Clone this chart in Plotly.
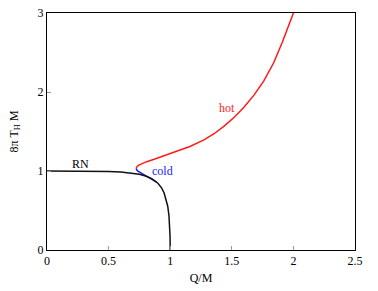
import plotly.graph_objects as go

# RN branch
rn_x = [0.0, 0.1, 0.2, 0.3, 0.4, 0.5, 0.6, 0.7, 0.75, 0.8, 0.85, 0.9, 0.93, 0.95, 0.97, 0.98, 0.99, 0.995, 0.999, 1.0]
rn_y = [1.0, 1.0, 0.9999, 0.9994, 0.9978, 0.9948, 0.9877, 0.9724, 0.960, 0.9375, 0.904, 0.8457, 0.786, 0.7253, 0.629, 0.5537, 0.4334, 0.3304, 0.164, 0.0]

# cold branch
cold_x = [0.724, 0.728, 0.738, 0.755, 0.775, 0.80, 0.83, 0.86, 0.89]
cold_y = [1.035, 1.015, 0.998, 0.982, 0.966, 0.948, 0.922, 0.893, 0.858]

# hot branch
hot_x = [0.724, 0.732, 0.745, 0.77, 0.81, 0.87, 0.95, 1.05, 1.16, 1.27, 1.36, 1.44, 1.52, 1.6, 1.68, 1.76, 1.84, 1.91, 1.96, 2.0]
hot_y = [1.035, 1.058, 1.075, 1.095, 1.118, 1.148, 1.19, 1.25, 1.31, 1.39, 1.475, 1.572, 1.68, 1.81, 1.96, 2.14, 2.37, 2.63, 2.83, 3.0]

x_ticks = [0, 0.5, 1, 1.5, 2, 2.5]
x_labels = ["0", "0.5", "1", "1.5", "2", "2.5"]
y_ticks = [0, 1, 2, 3]
y_labels = ["0", "1", "2", "3"]

font = "Liberation Serif, Times New Roman, serif"

fig = go.Figure()
fig.add_trace(go.Scatter(x=cold_x, y=cold_y, mode="lines", line=dict(color="#1a1aff", width=1.5), showlegend=False))
fig.add_trace(go.Scatter(x=rn_x, y=rn_y, mode="lines", line=dict(color="#111111", width=1.5), showlegend=False))
fig.add_trace(go.Scatter(x=hot_x, y=hot_y, mode="lines", line=dict(color="#ff1a1a", width=1.5), showlegend=False))

fig.add_annotation(x=0.27, y=1.095, text="RN", showarrow=False, font=dict(family=font, size=12, color="black"))
fig.add_annotation(x=0.94, y=0.996, text="cold", showarrow=False, font=dict(family=font, size=12, color="#1a1aff"))
fig.add_annotation(x=1.46, y=1.795, text="hot", showarrow=False, font=dict(family=font, size=12, color="#ff1a1a"))

axis_common = dict(
    showgrid=False, zeroline=False, showline=True, linecolor="black", linewidth=1,
    mirror=True, ticks="inside", ticklen=4, tickcolor="#999999", tickwidth=1,
    tickfont=dict(family=font, size=12, color="black"), automargin=False,
)

fig.update_layout(
    width=378, height=291,
    margin=dict(l=47, r=23, t=13, b=41),
    paper_bgcolor="white", plot_bgcolor="white",
    xaxis=dict(range=[0, 2.5], tickvals=x_ticks, ticktext=x_labels,
               title=dict(text="Q/M", font=dict(family=font, size=12, color="black"), standoff=6),
               **axis_common),
    yaxis=dict(range=[0, 3], tickvals=y_ticks, ticktext=y_labels,
               title=dict(text="8π T<sub>H</sub> M", font=dict(family=font, size=12, color="black"), standoff=16),
               **axis_common),
)

fig.write_html("out.html", config={"displayModeBar": False},
               post_script="document.body.style.margin='0';document.body.style.overflow='hidden';")
